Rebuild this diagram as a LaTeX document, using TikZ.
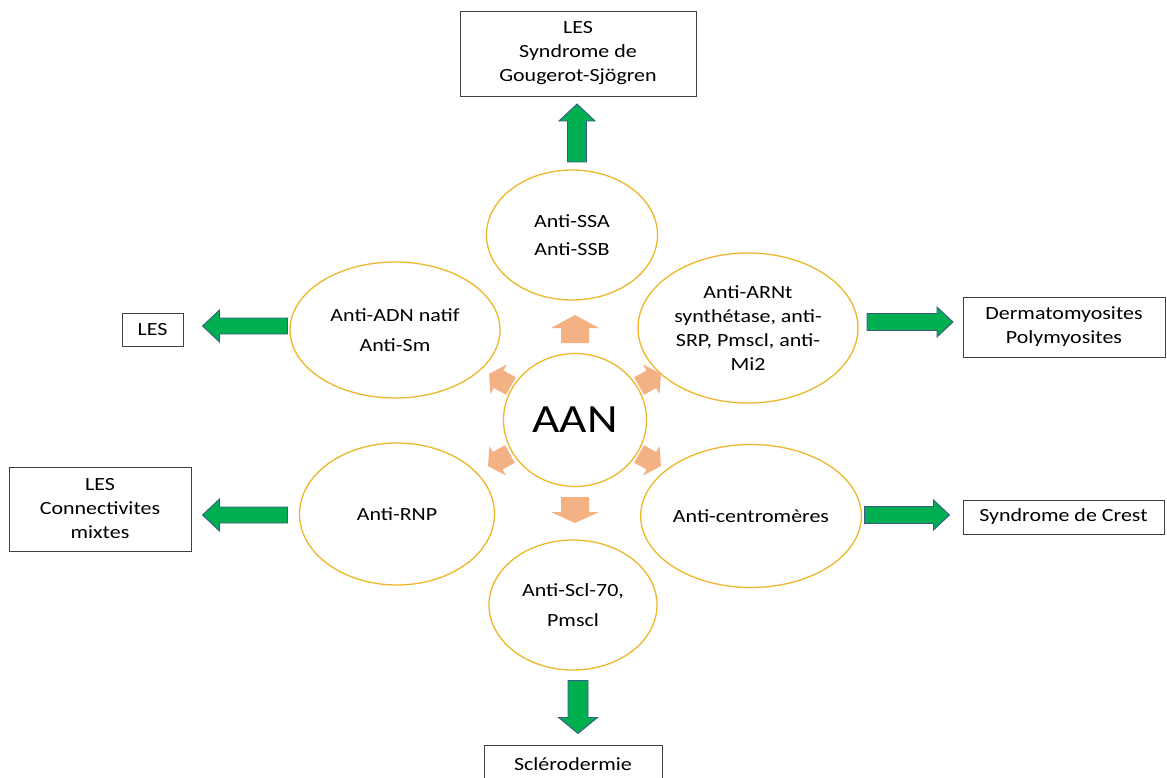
\documentclass[tikz,border=0pt]{standalone}
\usepackage{fontspec}
\setmainfont{Carlito}[FakeStretch=1.18]
\usetikzlibrary{shapes.geometric}
\definecolor{gold}{RGB}{236,183,40}
\definecolor{peach}{RGB}{244,177,131}
\definecolor{grn}{RGB}{0,176,80}
\definecolor{grnedge}{RGB}{58,90,140}
\definecolor{boxedge}{RGB}{64,64,64}
\newcommand{\blockArr}[8]{%
  \begin{scope}[shift={(#1,#2)},rotate=#3]
    \path[#8] ({-#4/2},{-#7}) -- ({#4/2-#5},{-#7}) -- ({#4/2-#5},{-#6}) -- ({#4/2},0)
      -- ({#4/2-#5},{#6}) -- ({#4/2-#5},{#7}) -- ({-#4/2},{#7}) -- cycle;
  \end{scope}}
\begin{document}
\begin{tikzpicture}[x=1pt,y=-1pt,
  txt/.style={font=\fontsize{18.6}{24}\selectfont},
  ell/.style={ellipse,draw=gold,line width=1.3pt,inner sep=0pt,align=center,txt},
  lbox/.style={rectangle,draw=boxedge,line width=0.9pt,inner sep=0pt,align=center,txt},
  garr/.style={fill=grn,draw=grnedge,line width=0.9pt},
  oarr/.style={fill=peach}]
\clip (0,0) rectangle (1167,778);
\fill[white] (0,0) rectangle (1167,778);

% ellipses
\node[ell,minimum width=143pt,minimum height=133pt,font=\fontsize{40}{48}\selectfont] (aan) at (575,420) {AAN};
\node[ell,minimum width=171pt,minimum height=130pt] (ssa) at (572,235) {Anti-SSA\\[4pt]Anti-SSB};
\node[ell,minimum width=210pt,minimum height=136pt] (adn) at (395,330) {Anti-ADN natif\\[6pt]Anti-Sm};
\node[ell,minimum width=220pt,minimum height=150pt] (arnt) at (748,328) {Anti-ARNt\\synthétase, anti-\\SRP, Pmscl, anti-\\Mi2};
\node[ell,minimum width=195pt,minimum height=142pt] (rnp) at (397,514) {Anti-RNP};
\node[ell,minimum width=213pt,minimum height=143pt] (cen) at (751,516) {Anti-centromères};
\node[ell,minimum width=168pt,minimum height=130pt] (scl) at (573,605) {Anti-Scl-70,\\[6pt]Pmscl};

% boxes
\node[lbox,minimum width=236pt,minimum height=85pt] (b1) at (578,53.5) {LES\\Syndrome de\\Gougerot-Sjögren};
\node[lbox,minimum width=61pt,minimum height=33pt] (b2) at (152.5,329.5) {LES};
\node[lbox,minimum width=182pt,minimum height=84pt] (b3) at (100,509) {LES\\Connectivites\\mixtes};
\node[lbox,minimum width=202pt,minimum height=60pt] (b4) at (1064,327) {Dermatomyosites\\Polymyosites};
\node[lbox,minimum width=201pt,minimum height=34pt] (b5) at (1063.5,517) {Syndrome de Crest};
\node[lbox,minimum width=178pt,minimum height=38pt] (b6) at (573,764) {Sclérodermie};

% green arrows
\blockArr{577}{133}{90}{58}{17}{18}{9.5}{garr}
\blockArr{245}{326}{180}{85}{17}{16}{8}{garr}
\blockArr{910}{322}{0}{86}{16}{15}{8.5}{garr}
\blockArr{245}{515}{180}{85}{17}{16}{8}{garr}
\blockArr{907}{515}{0}{85}{16}{15}{8.5}{garr}
\blockArr{578}{707}{-90}{53}{16}{19.5}{10}{garr}

% peach arrows
\blockArr{575}{329}{90}{28}{13}{24}{14}{oarr}
\blockArr{575}{510}{-90}{26}{11}{24}{14}{oarr}
\blockArr{650}{380}{29}{25}{11}{17}{10}{oarr}
\blockArr{650}{460}{-29}{25}{11}{17}{10}{oarr}
\blockArr{499}{460}{-151}{25}{11}{17}{10}{oarr}
\blockArr{500}{380}{151}{25}{11}{17}{10}{oarr}
\end{tikzpicture}
\end{document}
